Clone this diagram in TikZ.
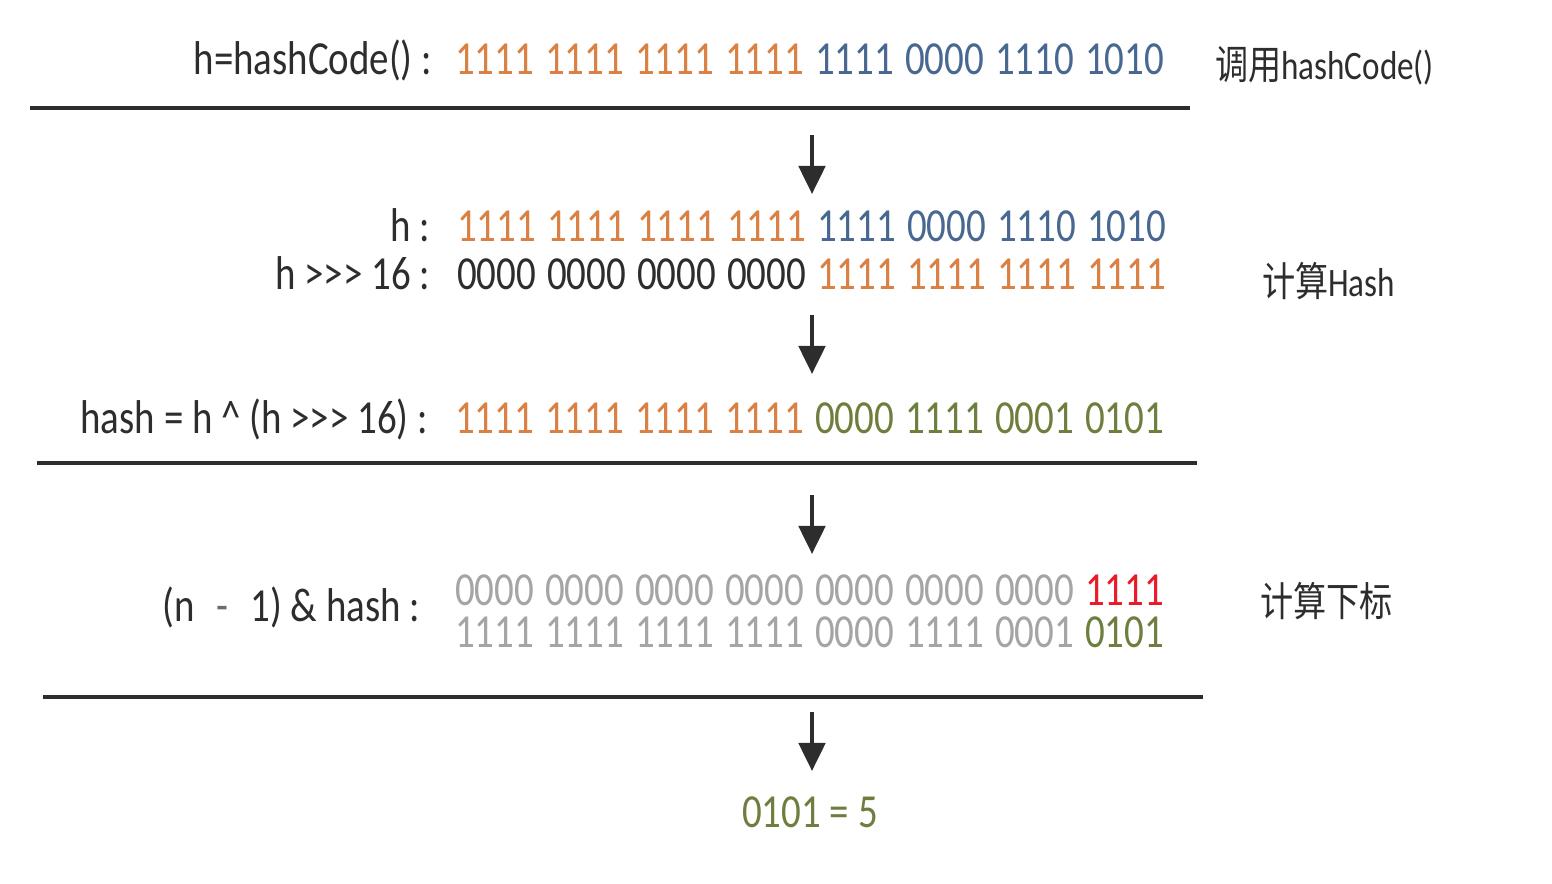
\documentclass[tikz,border=0pt]{standalone}
\usepackage{fontspec}
\setmainfont{Carlito}[FakeStretch=0.82]
\newfontfamily\cjk{Noto Sans CJK SC}[FakeStretch=0.82]
\usetikzlibrary{arrows.meta}
\definecolor{bitorange}{RGB}{218,128,66}
\definecolor{bitblue}{RGB}{72,104,146}
\definecolor{bitgreen}{RGB}{110,126,62}
\definecolor{bitgray}{RGB}{165,165,165}
\definecolor{bitred}{RGB}{232,28,40}
\definecolor{ink}{RGB}{45,45,45}
\newcommand{\shr}{>{}>{}>}

\begin{document}
\begin{tikzpicture}[x=0.02cm,y=-0.02cm]
\tikzstyle{every node}=[inner sep=0pt,outer sep=0pt,text=ink,font=\fontsize{27}{28}\selectfont]
\tikzstyle{lbl}=[anchor=base east]
\tikzstyle{bits}=[anchor=base west,text height=17pt,text depth=0pt]
\tikzstyle{note}=[anchor=base west,font=\fontsize{23}{26}\selectfont]
\tikzstyle{rule}=[draw=ink,line width=2.2pt]
\tikzstyle{down}=[draw=ink,line width=2.4pt,-{Triangle[width=15pt,length=16pt]}]

\useasboundingbox (0,0) rectangle (1552,884);

% step 1
\node[lbl] (hc) at (432,75) {h=hashCode() :};
\foreach \b/\c [count=\i from 0] in {1111/bitorange,1111/bitorange,1111/bitorange,1111/bitorange,1111/bitblue,0000/bitblue,1110/bitblue,1010/bitblue}
  \node[bits,text=\c] (ra\i) at (455+90*\i,75) {\b};
\node[note] (n1) at (1215,80) {{\cjk 调用}hashCode()};
\coordinate (l1a) at (30,108);
\coordinate (l1b) at (1190,108);
\draw[rule] (l1a) -- (l1b);

% step 2
\coordinate (a1s) at (812,135);
\coordinate (a1e) at (812,194);
\draw[down] (a1s) -- (a1e);
\node[lbl] (hh) at (430,242) {h :};
\foreach \b/\c [count=\i from 0] in {1111/bitorange,1111/bitorange,1111/bitorange,1111/bitorange,1111/bitblue,0000/bitblue,1110/bitblue,1010/bitblue}
  \node[bits,text=\c] (rb\i) at (457+90*\i,242) {\b};
\node[lbl] (hs) at (430,290) {h \shr{} 16 :};
\foreach \b/\c [count=\i from 0] in {0000/ink,0000/ink,0000/ink,0000/ink,1111/bitorange,1111/bitorange,1111/bitorange,1111/bitorange}
  \node[bits,text=\c] (rc\i) at (457+90*\i,290) {\b};
\node[note] (n2) at (1262,297) {{\cjk 计算}Hash};
\coordinate (a2s) at (812,315);
\coordinate (a2e) at (812,374);
\draw[down] (a2s) -- (a2e);
\node[lbl] (hx) at (428,434) {hash = h \^{} (h \shr{} 16) :};
\foreach \b/\c [count=\i from 0] in {1111/bitorange,1111/bitorange,1111/bitorange,1111/bitorange,0000/bitgreen,1111/bitgreen,0001/bitgreen,0101/bitgreen}
  \node[bits,text=\c] (rd\i) at (455+90*\i,434) {\b};
\coordinate (l2a) at (37,463);
\coordinate (l2b) at (1197,463);
\draw[rule] (l2a) -- (l2b);

% step 3
\coordinate (a3s) at (812,495);
\coordinate (a3e) at (812,554);
\draw[down] (a3s) -- (a3e);
\node[lbl] (hn) at (420,622) {(n \;\textcolor{ink!70}{-}\; 1) \& hash :};
\foreach \b/\c [count=\i from 0] in {0000/bitgray,0000/bitgray,0000/bitgray,0000/bitgray,0000/bitgray,0000/bitgray,0000/bitgray,1111/bitred}
  \node[bits,text=\c] (re\i) at (455+90*\i,606) {\b};
\foreach \b/\c [count=\i from 0] in {1111/bitgray,1111/bitgray,1111/bitgray,1111/bitgray,0000/bitgray,1111/bitgray,0001/bitgray,0101/bitgreen}
  \node[bits,text=\c] (rf\i) at (455+90*\i,648) {\b};
\node[note] (n3) at (1260,617) {\cjk 计算下标};
\coordinate (l3a) at (43,697);
\coordinate (l3b) at (1203,697);
\draw[rule] (l3a) -- (l3b);

% result
\coordinate (a4s) at (812,712);
\coordinate (a4e) at (812,771);
\draw[down] (a4s) -- (a4e);
\node[anchor=base,text=bitgreen] (res) at (810,827) {0101 = 5};
\end{tikzpicture}
\end{document}
